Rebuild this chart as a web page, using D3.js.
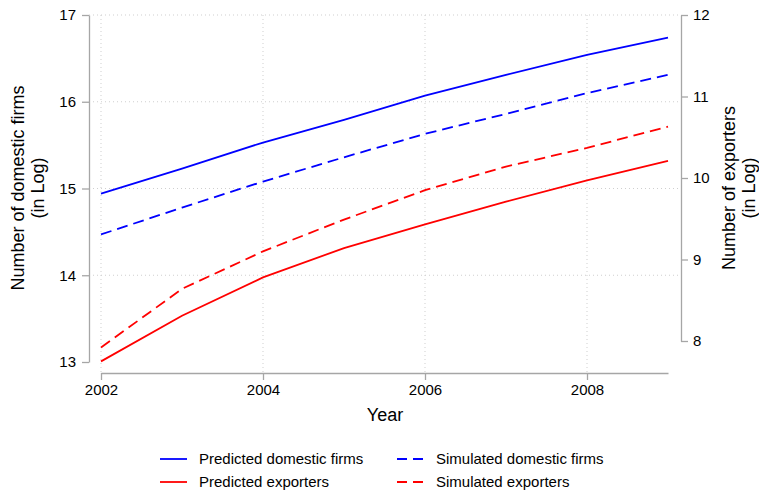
<!DOCTYPE html>
<html>
<head>
<meta charset="utf-8">
<script src="https://cdn.jsdelivr.net/npm/d3@7"></script>
<style>
  body { margin: 0; background: #fff; }
  svg { display: block; font-family: 'Liberation Sans', Arial, sans-serif; }
</style>
</head>
<body>
<div id="chart"></div>
<script>
// data
const years = [2002, 2003, 2004, 2005, 2006, 2007, 2008, 2009];
const predictedDomestic = [14.94, 15.23, 15.53, 15.79, 16.07, 16.31, 16.54, 16.74];
const simulatedDomestic = [14.47, 14.78, 15.08, 15.36, 15.63, 15.86, 16.10, 16.31];
const predictedExporters = [7.75, 8.31, 8.78, 9.14, 9.43, 9.71, 9.97, 10.21];
const simulatedExporters = [7.92, 8.64, 9.10, 9.49, 9.85, 10.14, 10.37, 10.63];

const xTicks = [2002, 2004, 2006, 2008];
const leftTicks = [13, 14, 15, 16, 17];
const rightTicks = [8, 9, 10, 11, 12];
const leftGrid = [14, 15, 16, 17];

const WIDTH = 759;
const HEIGHT = 490;
const BLUE = '#0000ff';
const RED = '#ff0000';
const AXIS_COLOR = '#a6a6a6';
const GRID_COLOR = '#cfcfcf';
const DASH = '11,6';

const svg = d3.select('#chart')
  .append('svg')
  .attr('width', WIDTH)
  .attr('height', HEIGHT);

const x = d3.scaleLinear().domain([2002, 2009]).range([101, 668]);
const yLeft = d3.scaleLinear().domain([13, 17]).range([362, 15]);
const yRight = d3.scaleLinear().domain([8, 12]).range([341, 15]);

// grid
svg.append('g')
  .selectAll('line')
  .data(leftGrid)
  .join('line')
  .attr('x1', 89).attr('x2', 681)
  .attr('y1', d => yLeft(d)).attr('y2', d => yLeft(d))
  .attr('stroke', GRID_COLOR)
  .attr('stroke-dasharray', '1,3');

svg.append('g')
  .selectAll('line')
  .data(xTicks)
  .join('line')
  .attr('x1', d => x(d)).attr('x2', d => x(d))
  .attr('y1', 15).attr('y2', 373)
  .attr('stroke', GRID_COLOR)
  .attr('stroke-dasharray', '1,3');

function styleAxis(g) {
  g.selectAll('.domain').attr('stroke', AXIS_COLOR).attr('stroke-width', 1.3);
  g.selectAll('.tick line').attr('stroke', AXIS_COLOR).attr('stroke-width', 1.3);
  g.selectAll('.tick text')
    .attr('fill', '#000')
    .style('font-size', '15px')
    .style('font-family', "'Liberation Sans', Arial, sans-serif");
}

// left axis
svg.append('g')
  .attr('transform', 'translate(89,0)')
  .call(d3.axisLeft(yLeft).tickValues(leftTicks).tickSize(7).tickSizeOuter(0).tickPadding(6).tickFormat(d3.format('d')))
  .call(styleAxis);

// right axis
svg.append('g')
  .attr('transform', 'translate(681,0)')
  .call(d3.axisRight(yRight).tickValues(rightTicks).tickSize(7).tickSizeOuter(0).tickPadding(5).tickFormat(d3.format('d')))
  .call(styleAxis);

// x axis
svg.append('g')
  .attr('transform', 'translate(0,373)')
  .call(d3.axisBottom(x).tickValues(xTicks).tickSize(7).tickSizeOuter(0).tickPadding(4).tickFormat(d3.format('d')))
  .call(styleAxis);

// axis titles
svg.append('text')
  .attr('x', 385).attr('y', 421)
  .attr('text-anchor', 'middle')
  .style('font-size', '18px')
  .text('Year');

function sideTitle(cx, lines) {
  const t = svg.append('text')
    .attr('transform', `translate(${cx},188) rotate(-90)`)
    .attr('text-anchor', 'middle')
    .style('font-size', '18px');
  lines.forEach((s, i) => {
    t.append('tspan').attr('x', 0).attr('y', i * 19.5).text(s);
  });
}
sideTitle(24, ['Number of domestic firms', '(in Log)']);
sideTitle(735, ['Number of exporters', '(in Log)']);

// series
const series = [
  { values: predictedDomestic, scale: yLeft, color: BLUE, dash: null },
  { values: simulatedDomestic, scale: yLeft, color: BLUE, dash: DASH },
  { values: predictedExporters, scale: yRight, color: RED, dash: null },
  { values: simulatedExporters, scale: yRight, color: RED, dash: DASH }
];

series.forEach(s => {
  const line = d3.line()
    .x((d, i) => x(years[i]))
    .y(d => s.scale(d));
  svg.append('path')
    .datum(s.values)
    .attr('fill', 'none')
    .attr('stroke', s.color)
    .attr('stroke-width', 1.8)
    .attr('stroke-dasharray', s.dash)
    .attr('d', line);
});

// legend
const legendItems = [
  { label: 'Predicted domestic firms', color: BLUE, dash: null, col: 0, row: 0 },
  { label: 'Simulated domestic firms', color: BLUE, dash: '10,6', col: 1, row: 0 },
  { label: 'Predicted exporters', color: RED, dash: null, col: 0, row: 1 },
  { label: 'Simulated exporters', color: RED, dash: '10,6', col: 1, row: 1 }
];
const colX = [160, 397];
const rowY = [459, 482];

const legend = svg.append('g');
legendItems.forEach(it => {
  const lx = colX[it.col];
  const ly = rowY[it.row];
  legend.append('line')
    .attr('x1', lx).attr('x2', lx + 27)
    .attr('y1', ly).attr('y2', ly)
    .attr('stroke', it.color)
    .attr('stroke-width', 1.8)
    .attr('stroke-dasharray', it.dash);
  legend.append('text')
    .attr('x', lx + 39).attr('y', ly + 5)
    .style('font-size', '15px')
    .text(it.label);
});
</script>
</body>
</html>
